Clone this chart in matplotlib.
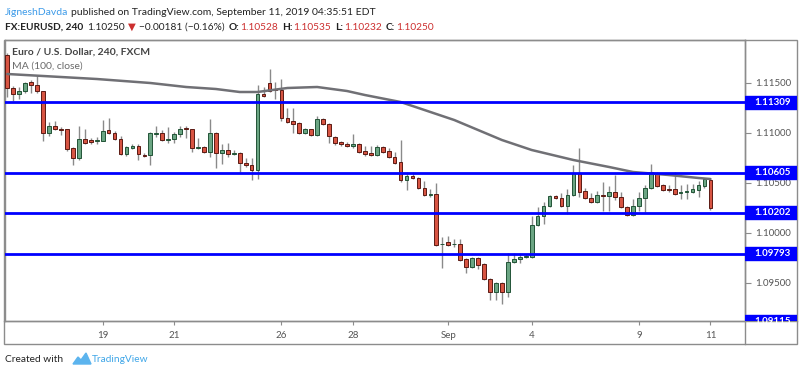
import numpy as np
import matplotlib
matplotlib.use("Agg")
import matplotlib.pyplot as plt
from matplotlib.patches import Rectangle, Polygon

# 4h EURUSD candles
opens = [
    1.1178, 1.1145, 1.1139, 1.1142, 1.1151, 1.1148, 1.1142, 1.1100, 1.1107, 1.1104,
    1.1104, 1.1085, 1.1075, 1.1094, 1.1093, 1.1092, 1.1092, 1.1103, 1.1100, 1.1094,
    1.1079, 1.1085, 1.1087, 1.1078, 1.1078, 1.1099, 1.1100, 1.1093, 1.1094, 1.1099,
    1.1105, 1.1104, 1.1085, 1.1086, 1.1081, 1.1100, 1.1080, 1.1083, 1.1079, 1.1080,
    1.1070, 1.1068, 1.1063, 1.1139, 1.1150, 1.1144, 1.1143, 1.1115, 1.1112, 1.1110,
    1.1100, 1.1104, 1.1098, 1.1114, 1.1109, 1.1096, 1.1091, 1.1089, 1.1087, 1.1089,
    1.1082, 1.1080, 1.1078, 1.1086, 1.1082, 1.1076, 1.1071, 1.1053, 1.1057, 1.1055,
    1.1045, 1.1038, 1.1039, 1.0989, 1.0991, 1.0989, 1.0989, 1.0974, 1.0966, 1.0975,
    1.0969, 1.0954, 1.0941, 1.0950, 1.0941, 1.0971, 1.0974, 1.0976, 1.0976, 1.1008,
    1.1017, 1.1027, 1.1037, 1.1035, 1.1027, 1.1038, 1.1060, 1.1042, 1.1035, 1.1031,
    1.1038, 1.1037, 1.1041, 1.1036, 1.1026, 1.1018, 1.1027, 1.1035, 1.1045, 1.1060,
    1.1048, 1.1044, 1.1044, 1.1040, 1.1041, 1.1041, 1.1043, 1.1047, 1.10528]
highs = [
    1.1180, 1.1147, 1.1146, 1.1151, 1.1153, 1.1158, 1.1142, 1.1111, 1.1112, 1.1106,
    1.1104, 1.1086, 1.1107, 1.1104, 1.1095, 1.1096, 1.1113, 1.1115, 1.1102, 1.1097,
    1.1087, 1.1089, 1.1089, 1.1080, 1.1101, 1.1107, 1.1103, 1.1106, 1.1101, 1.1107,
    1.1107, 1.1104, 1.1095, 1.1087, 1.1114, 1.1101, 1.1089, 1.1090, 1.1083, 1.1081,
    1.1075, 1.1075, 1.1148, 1.1146, 1.1164, 1.1151, 1.1154, 1.1125, 1.1125, 1.1111,
    1.1105, 1.1104, 1.1117, 1.1115, 1.1110, 1.1097, 1.1092, 1.1091, 1.1099, 1.1090,
    1.1087, 1.1087, 1.1088, 1.1087, 1.1085, 1.1081, 1.1093, 1.1061, 1.1061, 1.1056,
    1.1052, 1.1044, 1.1050, 1.0996, 1.0997, 1.0994, 1.0994, 1.0975, 1.0976, 1.0976,
    1.0970, 1.0955, 1.0951, 1.0951, 1.0980, 1.0980, 1.0980, 1.0979, 1.1017, 1.1026,
    1.1031, 1.1038, 1.1038, 1.1040, 1.1044, 1.1068, 1.1085, 1.1045, 1.1040, 1.1042,
    1.1051, 1.1047, 1.1058, 1.1041, 1.1027, 1.1034, 1.1041, 1.1048, 1.1069, 1.1061,
    1.1049, 1.1048, 1.1061, 1.1048, 1.1049, 1.1049, 1.1052, 1.1055, 1.10535]
lows = [
    1.1136, 1.1132, 1.1134, 1.1140, 1.1140, 1.1140, 1.1092, 1.1097, 1.1103, 1.1098,
    1.1082, 1.1068, 1.1073, 1.1089, 1.1089, 1.1089, 1.1092, 1.1099, 1.1093, 1.1078,
    1.1077, 1.1084, 1.1073, 1.1076, 1.1068, 1.1096, 1.1092, 1.1090, 1.1090, 1.1096,
    1.1095, 1.1081, 1.1084, 1.1080, 1.1076, 1.1065, 1.1069, 1.1076, 1.1078, 1.1061,
    1.1066, 1.1053, 1.1054, 1.1136, 1.1141, 1.1134, 1.1112, 1.1110, 1.1100, 1.1099,
    1.1099, 1.1097, 1.1097, 1.1108, 1.1090, 1.1088, 1.1087, 1.1086, 1.1085, 1.1080,
    1.1077, 1.1077, 1.1077, 1.1080, 1.1075, 1.1069, 1.1051, 1.1043, 1.1054, 1.1044,
    1.1037, 1.1036, 1.0987, 1.0965, 1.0987, 1.0986, 1.0972, 1.0960, 1.0965, 1.0964,
    1.0953, 1.0933, 1.0933, 1.0929, 1.0936, 1.0970, 1.0970, 1.0975, 1.0975, 1.1007,
    1.1009, 1.1026, 1.1034, 1.1026, 1.1019, 1.1037, 1.1036, 1.1034, 1.1030, 1.1030,
    1.1022, 1.1022, 1.1033, 1.1025, 1.1017, 1.1017, 1.1022, 1.1021, 1.1044, 1.1046,
    1.1042, 1.1041, 1.1038, 1.1034, 1.1034, 1.1040, 1.1036, 1.1045, 1.10232]
closes = [
    1.1145, 1.1139, 1.1142, 1.1150, 1.1148, 1.1142, 1.1100, 1.1107, 1.1104, 1.1103,
    1.1084, 1.1075, 1.1094, 1.1090, 1.1091, 1.1093, 1.1102, 1.1100, 1.1094, 1.1079,
    1.1086, 1.1087, 1.1079, 1.1077, 1.1100, 1.1100, 1.1093, 1.1094, 1.1099, 1.1104,
    1.1104, 1.1085, 1.1086, 1.1081, 1.1100, 1.1080, 1.1083, 1.1079, 1.1080, 1.1070,
    1.1068, 1.1063, 1.1139, 1.1137, 1.1142, 1.1143, 1.1115, 1.1111, 1.1109, 1.1100,
    1.1104, 1.1098, 1.1114, 1.1109, 1.1097, 1.1090, 1.1089, 1.1087, 1.1089, 1.1081,
    1.1079, 1.1078, 1.1086, 1.1081, 1.1076, 1.1070, 1.1053, 1.1057, 1.1055, 1.1045,
    1.1038, 1.1039, 1.0988, 1.0989, 1.0988, 1.0989, 1.0973, 1.0966, 1.0975, 1.0968,
    1.0954, 1.0941, 1.0950, 1.0941, 1.0971, 1.0974, 1.0976, 1.0977, 1.1008, 1.1017,
    1.1027, 1.1037, 1.1035, 1.1027, 1.1038, 1.1060, 1.1041, 1.1035, 1.1031, 1.1038,
    1.1037, 1.1041, 1.1036, 1.1026, 1.1018, 1.1027, 1.1035, 1.1045, 1.1061, 1.1047,
    1.1043, 1.1043, 1.1039, 1.1041, 1.1042, 1.1044, 1.1048, 1.1054, 1.10250]

# MA(100) read at a few candle positions
ma_idx = [0, 9, 15, 24, 30, 35, 39, 42, 47, 52, 57, 60, 66, 71, 75, 83, 88, 95, 101, 105, 111, 116, 118]
ma_val = [1.1159, 1.1156, 1.1154, 1.1150, 1.1146, 1.1144, 1.1141, 1.1141, 1.1145, 1.1146, 1.1142,
          1.1138, 1.1131, 1.1121, 1.1113, 1.1093, 1.1083, 1.1073, 1.1066, 1.1061, 1.1058, 1.1055, 1.1054]

levels = [1.11309, 1.10605, 1.10202, 1.09793]
floor_level = 1.09115
price_ticks = [1.095, 1.100, 1.105, 1.110, 1.115]
date_pos = [16, 28, 46, 58, 74, 88, 106, 118]
date_labels = ["19", "21", "26", "28", "Sep", "4", "9", "11"]

W, H = 800, 376
plt.rcParams['font.family'] = ['Lato', 'DejaVu Sans']
fig = plt.figure(figsize=(W / 100, H / 100), dpi=100)
fig.patch.set_facecolor("white")

DARK = "#222222"
RED = "#cc2f2f"
GREY = "#8c8c8c"
TXT = "#555555"
BLUE = "#0000ff"
UP, UP_EDGE = "#6ba583", "#225437"
DN, DN_EDGE = "#d75442", "#5b1a13"

# overlay axes in pixel coords (y down) for header / frame / footer
bg = fig.add_axes([0, 0, 1, 1], zorder=0)
bg.set_xlim(0, W); bg.set_ylim(H, 0); bg.axis("off")

L, R, T, B = 5, 745, 40, 321
ax = fig.add_axes([L / W, 1 - B / H, (R - L) / W, (B - T) / H], zorder=2)
ax.patch.set_alpha(0)
ylo, yhi = 1.0912, 1.1193
ax.set_ylim(ylo, yhi)
ax.set_xlim(-0.39, 123.8)

x = np.arange(len(opens))
o, h, l, c = (np.array(a) for a in (opens, highs, lows, closes))
up = c >= o
ax.vlines(x, l, h, color="#8a8a8a", lw=1, zorder=2)
ax.bar(x[up], np.maximum(c - o, 0.00002)[up], bottom=o[up], width=0.62,
       color=UP, edgecolor=UP_EDGE, lw=0.7, zorder=3)
ax.bar(x[~up], np.maximum(o - c, 0.00002)[~up], bottom=c[~up], width=0.62,
       color=DN, edgecolor=DN_EDGE, lw=0.7, zorder=3)

ax.plot(ma_idx, ma_val, color="#707075", lw=1.8, zorder=4, solid_capstyle="round")
for lv in levels:
    ax.axhline(lv, color=BLUE, lw=2, zorder=5)
ax.axhline(floor_level, color="#a0a0ff", lw=1, zorder=5)

ax.yaxis.tick_right()
ax.set_yticks(price_ticks)
ax.set_yticklabels([f"{p:.5f}" for p in price_ticks])
ax.tick_params(axis="y", direction="out", length=4, width=0.8, pad=3,
               labelsize=7, colors=GREY, labelcolor=TXT)
ax.set_xticks(date_pos)
ax.set_xticklabels(date_labels)
ax.tick_params(axis="x", direction="out", length=3, width=0.8, pad=4,
               labelsize=7, colors=GREY, labelcolor=TXT)
for s in ax.spines.values():
    s.set_color(GREY); s.set_linewidth(1)

ax.text(0.009, 0.972, "Euro / U.S. Dollar, 240, FXCM", transform=ax.transAxes,
        fontsize=7.5, color="#444444", fontweight="bold", va="top")
ax.text(0.009, 0.922, "MA (100, close)", transform=ax.transAxes,
        fontsize=7.5, color="#6a6a6a", va="top")

# right price panel with level tags
rax = fig.add_axes([R / W, 1 - B / H, 52 / W, (B - T) / H], zorder=3)
rax.set_ylim(ylo, yhi); rax.set_xlim(0, 1); rax.axis("off")
for lv in levels + [floor_level]:
    rax.add_patch(Rectangle((0, lv - 0.00065), 1, 0.0013, color=BLUE, zorder=3))
    rax.text(0.17, lv, f"{lv:.5f}", color="white", fontsize=7, fontweight="bold",
             va="center", ha="left", zorder=4)

# frame
bg.add_patch(Rectangle((4, T), 793, 344 - T, fill=False, edgecolor=GREY, lw=1))
bg.plot([R, R], [T, 344], color=GREY, lw=1)
bg.plot([4, 797], [B, B], color=GREY, lw=1)

r = fig.canvas.get_renderer()


def text_run(x0, y0, parts, size):
    for s, col, wt, gap in parts:
        t = bg.text(x0, y0, s, color=col, fontsize=size, fontweight=wt,
                    va="baseline", ha="left")
        x0 += t.get_window_extent(r).width + gap


text_run(5, 15, [("JigneshDavda", "#3d9be9", "normal", 3),
                 ("published on TradingView.com, September 11, 2019 04:35:51 EDT", DARK, "normal", 0)], 7.5)
text_run(5, 30, [("FX:EURUSD, 240", DARK, "bold", 4),
                 ("1.10250", DARK, "normal", 3),
                 ("▼", RED, "normal", 3),
                 ("−0.00181 (−0.16%)", DARK, "normal", 4),
                 ("O:", DARK, "bold", 1), ("1.10528", RED, "normal", 4),
                 ("H:", DARK, "bold", 1), ("1.10535", RED, "normal", 4),
                 ("L:", DARK, "bold", 1), ("1.10232", RED, "normal", 4),
                 ("C:", DARK, "bold", 1), ("1.10250", RED, "normal", 0)], 7.3)

# footer
text_run(5, 362, [("Created with", DARK, "normal", 0)], 7.3)
bg.add_patch(Polygon([(73, 364), (78, 357), (81, 360), (86, 353), (91, 364)],
                     closed=True, color="#5cb4ee"))
text_run(92, 362, [("TradingView", "#3fa6e8", "normal", 0)], 7.3)

fig.savefig("out.png", dpi=100)
